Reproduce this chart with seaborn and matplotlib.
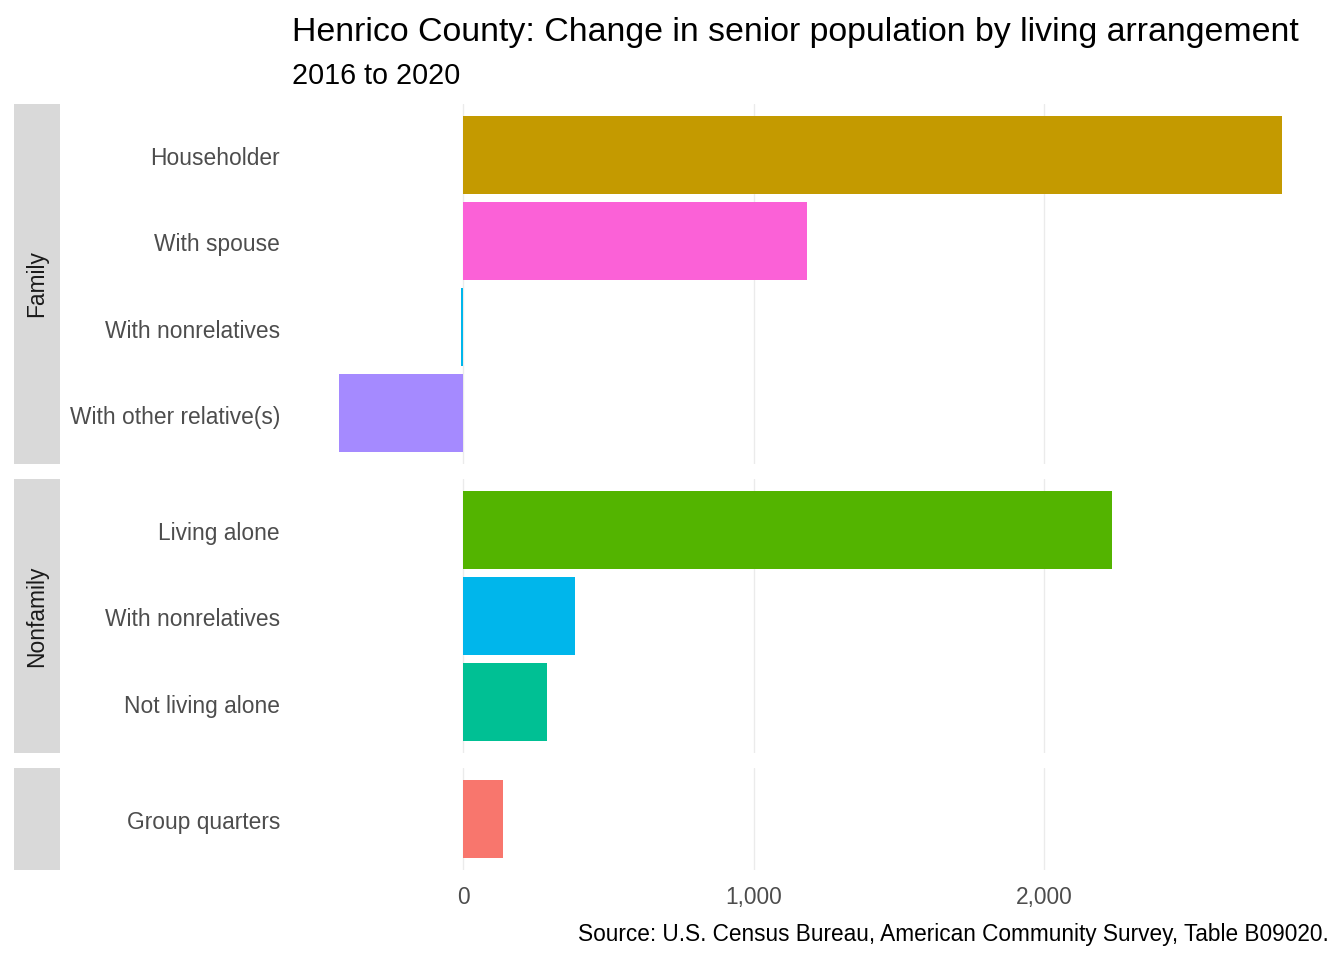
import matplotlib
matplotlib.use("Agg")
import matplotlib.pyplot as plt
import matplotlib.ticker as mticker
import matplotlib.transforms as mtransforms
import seaborn as sns
import pandas as pd

# data
family_labels = ["Householder", "With spouse", "With nonrelatives", "With other relative(s)"]
family_values = [2819, 1184, -8, -427]
nonfamily_labels = ["Living alone", "With nonrelatives", "Not living alone"]
nonfamily_values = [2234, 386, 289]
gq_labels = ["Group quarters"]
gq_values = [138]

colors = {
    "Householder": "#C49A00",
    "With spouse": "#FB61D7",
    "With nonrelatives": "#00B6EB",
    "With other relative(s)": "#A58AFF",
    "Living alone": "#53B400",
    "Not living alone": "#00C094",
    "Group quarters": "#F8766D",
}

facets = [
    ("Family", family_labels, family_values),
    ("Nonfamily", nonfamily_labels, nonfamily_values),
    ("", gq_labels, gq_values),
]

sns.set_theme(style="white")
plt.rcParams["font.family"] = ["Liberation Sans", "DejaVu Sans"]

W, H = 1344, 960
fig = plt.figure(figsize=(7, 5), dpi=192)

left, right = 292, 1329
panels_px = [(104, 464), (479, 753), (768, 870)]
xlim = (-589, 2981)
# nudge y tick labels down a little
shift = mtransforms.ScaledTranslation(0, -1.5 / 192, fig.dpi_scale_trans)

for i, ((name, labels, values), (top, bot)) in enumerate(zip(facets, panels_px)):
    ax = fig.add_axes([left / W, 1 - bot / H, (right - left) / W, (bot - top) / H])
    df = pd.DataFrame({"label": labels, "value": values})
    sns.barplot(data=df, x="value", y="label", hue="label", palette=colors,
                orient="h", width=0.9, legend=False, ax=ax, saturation=1,
                linewidth=0, edgecolor="none")
    n = len(labels)
    ax.set_ylim(n - 0.5 + 0.093, -0.5 - 0.093)
    ax.set_xlim(*xlim)
    ax.set_xlabel("")
    ax.set_ylabel("")
    for s in ax.spines.values():
        s.set_visible(False)
    ax.xaxis.set_major_locator(mticker.FixedLocator([0, 1000, 2000]))
    ax.grid(axis="x", color="#EBEBEB", linewidth=0.5)
    ax.grid(axis="y", visible=False)
    ax.set_axisbelow(True)
    ax.tick_params(axis="y", length=0, pad=4.5, labelsize=8.55, labelcolor="#4D4D4D")
    ax.tick_params(axis="x", length=0, pad=6, labelsize=8.55, labelcolor="#4D4D4D")
    ax.xaxis.set_major_formatter(mticker.FuncFormatter(lambda v, p: f"{int(v):,}"))
    for lab in ax.get_yticklabels():
        lab.set_transform(lab.get_transform() + shift)
    if i < len(facets) - 1:
        ax.set_xticklabels([])
    # facet strip on the left
    sax = fig.add_axes([14 / W, 1 - bot / H, 46 / W, (bot - top) / H])
    sax.set_facecolor("#D9D9D9")
    sax.set_xticks([])
    sax.set_yticks([])
    for s in sax.spines.values():
        s.set_visible(False)
    sax.text(0.5, 0.5, name, rotation=90, ha="center", va="center",
             fontsize=8.55, color="#1A1A1A", transform=sax.transAxes)

fig.text(left / W, 1 - 32 / H, "Henrico County: Change in senior population by living arrangement",
         ha="left", va="center", fontsize=12.7, color="black")
fig.text(left / W, 1 - 76 / H, "2016 to 2020",
         ha="left", va="center", fontsize=10.8, color="black")
fig.text(right / W, 1 - 934 / H,
         "Source: U.S. Census Bureau, American Community Survey, Table B09020.",
         ha="right", va="center", fontsize=8.5, color="black")

fig.savefig("out.png", dpi=192, facecolor="white")
